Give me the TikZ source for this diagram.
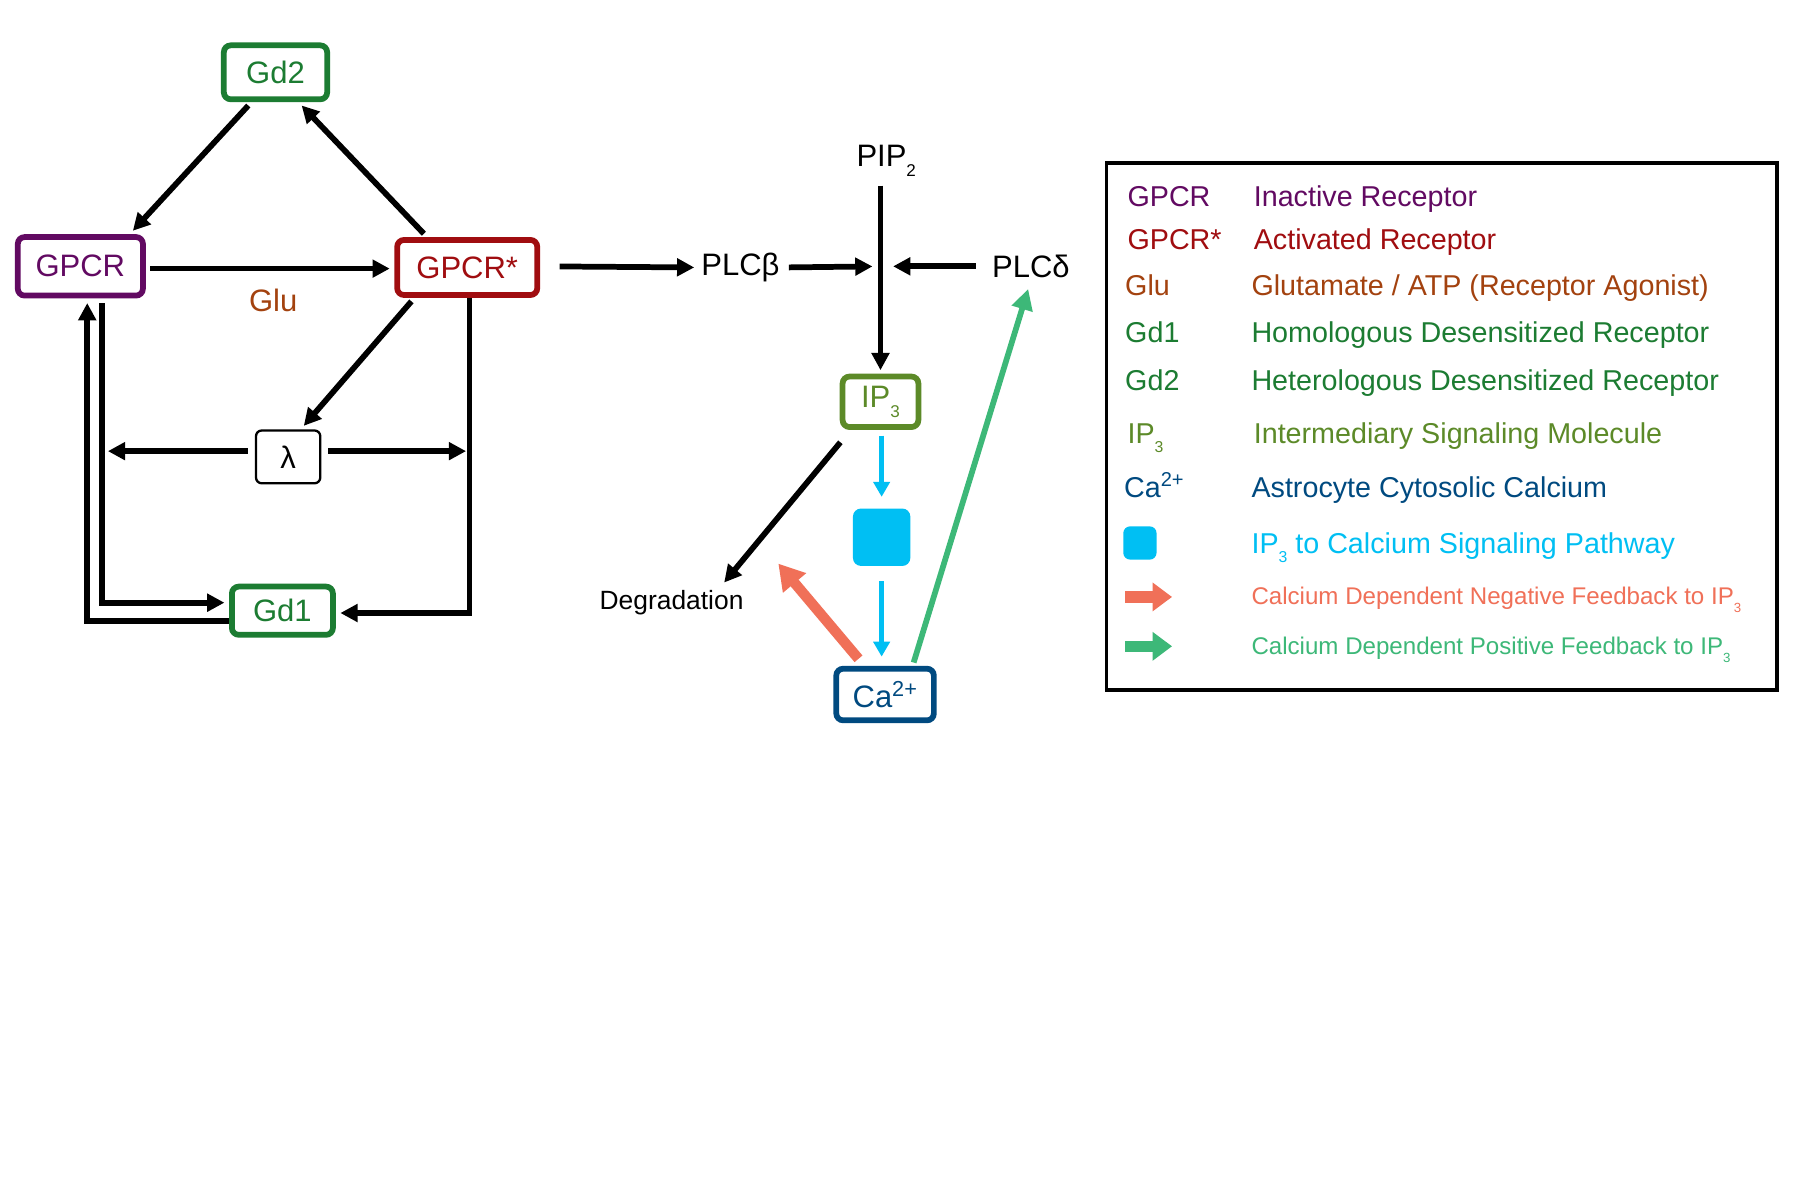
\documentclass[tikz,border=0pt]{standalone}
\usepackage{fontspec}
\setmainfont{Liberation Sans}
\usetikzlibrary{arrows.meta, positioning, calc}
\definecolor{gpcrpurple}{HTML}{620A62}
\definecolor{gpcrred}{HTML}{A00D10}
\definecolor{glubrown}{HTML}{A3420F}
\definecolor{gdgreen}{HTML}{1C7C32}
\definecolor{ipolive}{HTML}{5C8A28}
\definecolor{cablue}{HTML}{004A80}
\definecolor{pathcyan}{HTML}{00BFF3}
\definecolor{negcoral}{HTML}{F07058}
\definecolor{posgreen}{HTML}{3DB878}
\newcommand{\lowsub}[1]{\raisebox{-0.32em}{\scalebox{0.55}{#1}}}

\begin{document}
\begin{tikzpicture}[x=1pt, y=-1pt,
  statebox/.style={draw, fill=white, line width=5pt, rounded corners=6pt, inner sep=0pt, font=\fontsize{27}{27}\selectfont},
  plainlabel/.style={inner sep=2pt, font=\fontsize{27}{27}\selectfont},
  blackarr/.style={line width=5pt, shorten <=4pt, shorten >=4pt, -{Triangle[length=15pt,width=15pt]}},
  cyanarr/.style={pathcyan, line width=4pt, -{Triangle[length=13pt,width=14pt]}},
  keytext/.style={anchor=base west, inner sep=2pt, font=\fontsize{25}{25}\selectfont},
  smallkey/.style={anchor=base west, inner sep=2pt, font=\fontsize{21}{21}\selectfont}]

  % Canvas
  \fill[white] (0,0) rectangle (1568,1045.3);
  \useasboundingbox (0,0) rectangle (1568,1045.3);

  % Receptor states (LEFT)
  \node[statebox, draw=gdgreen, text=gdgreen, minimum width=90pt, minimum height=47pt] (gd2) at (240,63) {Gd2};
  \node[statebox, draw=gpcrpurple, text=gpcrpurple, minimum width=109pt, minimum height=51pt] (gpcr) at (70,232) {GPCR};
  \node[statebox, draw=gpcrred, text=gpcrred, minimum width=122pt, minimum height=48pt] (gpcra) at (407,233) {GPCR*};
  \node[statebox, draw=gdgreen, text=gdgreen, minimum width=88pt, minimum height=42pt] (gd1) at (246,532) {Gd1};
  \node[draw, fill=white, line width=2pt, rounded corners=5pt, minimum width=56pt, minimum height=46pt, font=\fontsize{27}{27}\selectfont] (lam) at (251,398) {λ};
  \node[plainlabel, text=glubrown] (glu) at (238,262) {Glu};
  \coordinate (lamleft) at (94,393);
  \coordinate (lamright) at (406,393);

  % Receptor transitions
  \draw[blackarr] ([xshift=-21pt]gd2.south) -- ([xshift=43pt]gpcr.north);
  \draw[blackarr] ([xshift=-35pt]gpcra.north) -- ([xshift=20pt]gd2.south);
  \draw[blackarr] ([yshift=-2pt]gpcr.east) -- ([yshift=-2pt]gpcr.east -| gpcra.west);
  \draw[blackarr] ([xshift=-46pt]gpcra.south) -- ([xshift=11pt]lam.north);
  \draw[blackarr, shorten <=6pt, shorten >=0pt] ([yshift=5pt]lam.west) -- (lamleft);
  \draw[blackarr, shorten <=6pt, shorten >=0pt] ([yshift=5pt]lam.east) -- (lamright);
  \draw[blackarr] ([xshift=19pt]gpcr.south) |- ([yshift=7pt]gd1.west);
  \draw[blackarr, shorten <=0pt] ([yshift=-9pt]gd1.west) -| ([xshift=6pt]gpcr.south);
  \draw[blackarr, shorten <=0pt] ([xshift=2pt]gpcra.south) |- ([yshift=-2pt]gd1.east);

  % IP3 production (MIDDLE)
  \node[plainlabel] (plcb) at (645,233) {PLCβ};
  \node[plainlabel] (plcd) at (898,232) {PLCδ};
  \node[plainlabel] (pip2) at (772,140) {PIP\lowsub{2}};
  \coordinate (join) at (768,232);
  \node[statebox, draw=ipolive, text=ipolive, minimum width=66pt, minimum height=44pt] (ip3) at (767,350) {IP\lowsub{3}};
  \node[fill=pathcyan, rounded corners=7pt, minimum size=50pt, inner sep=0pt] (path) at (768,468) {};
  \node[statebox, draw=cablue, text=cablue, minimum width=85pt, minimum height=45pt] (ca) at (771,605) {Ca\textsuperscript{2+}};
  \node[inner sep=2pt, font=\fontsize{23}{23}\selectfont] (degr) at (585,525) {Degradation};
  \coordinate (negend) at (678,491);

  \draw[blackarr, shorten <=17pt] ([yshift=1pt]gpcra.east) -- (plcb.west);
  \draw[blackarr, shorten <=6pt, shorten >=8pt] (plcb.east) -- (join);
  \draw[blackarr, shorten <=12pt, shorten >=10pt] (plcd.west) -- (join);
  \draw[blackarr, shorten <=6pt, shorten >=3pt] (pip2.south -| ip3.north) -- (ip3.north);
  \draw[blackarr, shorten <=14pt, shorten >=6pt] ([xshift=-26pt]ip3.south) -- ([xshift=42pt]degr.north);
  \draw[cyanarr, shorten <=5pt, shorten >=10pt] (ip3.south -| path.north) -- (path.north);
  \draw[cyanarr, shorten <=13pt, shorten >=8pt] (path.south) -- (path.south |- ca.north);

  % Calcium feedback
  \draw[negcoral, line width=9pt, shorten <=8pt, -{Triangle[length=22pt,width=25pt]}] ([xshift=-18pt]ca.north) -- (negend);
  \draw[posgreen, line width=5pt, shorten <=3pt, shorten >=8pt, -{Triangle[length=18pt,width=18pt]}] ([xshift=24pt]ca.north) -- (plcd.south);

  % Legend (RIGHT)
  \draw[line width=3pt] (964,142) rectangle (1548,601);
  \node[keytext, text=gpcrpurple] (kgpcr) at (980,180) {GPCR};
  \node[keytext, text=gpcrpurple] (dgpcr) at (1090,180) {Inactive Receptor};
  \node[keytext, text=gpcrred] (kgpcra) at (980,217) {GPCR*};
  \node[keytext, text=gpcrred] (dgpcra) at (1090,217) {Activated Receptor};
  \node[keytext, text=glubrown] (kglu) at (978,257) {Glu};
  \node[keytext, text=glubrown] (dglu) at (1088,257) {Glutamate / ATP (Receptor Agonist)};
  \node[keytext, text=gdgreen] (kgd1) at (978,298) {Gd1};
  \node[keytext, text=gdgreen] (dgd1) at (1088,298) {Homologous Desensitized Receptor};
  \node[keytext, text=gdgreen] (kgd2) at (978,340) {Gd2};
  \node[keytext, text=gdgreen] (dgd2) at (1088,340) {Heterologous Desensitized Receptor};
  \node[keytext, text=ipolive] (kip3) at (980,386) {IP\lowsub{3}};
  \node[keytext, text=ipolive] (dip3) at (1090,386) {Intermediary Signaling Molecule};
  \node[keytext, text=cablue] (kca) at (977,433) {Ca\textsuperscript{2+}};
  \node[keytext, text=cablue] (dca) at (1088,433) {Astrocyte Cytosolic Calcium};
  \node[fill=pathcyan, rounded corners=6pt, minimum size=29pt, inner sep=0pt] (kpath) at (993,473) {};
  \node[keytext, text=pathcyan] (dpath) at (1088,482) {IP\lowsub{3} to Calcium Signaling Pathway};
  \draw[negcoral, line width=10pt, -{Triangle[length=17pt,width=24pt]}] (980,520) -- (1021,520);
  \node[smallkey, text=negcoral] (dneg) at (1088,527) {Calcium Dependent Negative Feedback to IP\lowsub{3}};
  \draw[posgreen, line width=10pt, -{Triangle[length=17pt,width=24pt]}] (980,563) -- (1021,563);
  \node[smallkey, text=posgreen] (dpos) at (1088,570) {Calcium Dependent Positive Feedback to IP\lowsub{3}};
\end{tikzpicture}
\end{document}
